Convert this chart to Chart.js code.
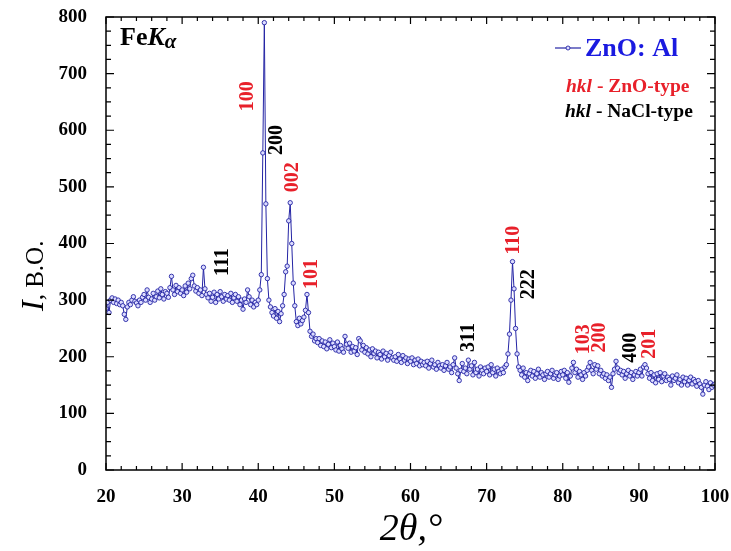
<!DOCTYPE html>
<html>
<head>
<meta charset="utf-8">
<script src="https://cdn.jsdelivr.net/npm/chart.js@4"></script>
<style>
  body { margin: 0; background: #fff; }
  canvas { display: block; }
</style>
</head>
<body>
<canvas id="xrd" width="731" height="551"></canvas>
<script>
// 2theta grid: 20..100 deg, 0.2 deg step
const start = 20, step = 0.2;

// intensity, a.u. (10 points per 2 deg)
const intensity = [
  285, 296, 278, 300, 304, 296, 302, 294, 300, 292,   // 20
  296, 290, 275, 266, 288, 296, 292, 300, 306, 298,   // 22
  295, 290, 300, 296, 305, 310, 300, 318, 305, 296,   // 24
  302, 312, 300, 306, 316, 304, 320, 310, 302, 315,   // 26
  312, 305, 322, 342, 318, 310, 326, 315, 322, 312,   // 28
  318, 308, 325, 314, 330, 320, 338, 344, 325, 316,   // 30
  322, 312, 318, 308, 358, 320, 310, 304, 312, 298,   // 32
  305, 314, 296, 310, 302, 315, 306, 298, 310, 302,   // 34
  308, 300, 312, 296, 304, 310, 298, 306, 292, 300,   // 36
  284, 302, 296, 318, 306, 292, 300, 288, 296, 292,   // 38
  300, 318, 345, 560, 790, 470, 338, 300, 288, 278,   // 40
  272, 285, 268, 280, 262, 276, 290, 310, 350, 360,   // 42
  440, 472, 400, 330, 290, 262, 255, 268, 258, 264,   // 44
  270, 282, 310, 278, 245, 236, 240, 228, 232, 225,   // 46
  232, 220, 228, 218, 226, 214, 222, 230, 216, 224,   // 48
  218, 212, 226, 210, 220, 214, 208, 236, 222, 215,   // 50
  224, 208, 218, 210, 216, 204, 232, 228, 212, 220,   // 52
  208, 216, 205, 212, 200, 214, 206, 210, 198, 208,   // 54
  204, 196, 210, 200, 206, 194, 202, 208, 198, 194,   // 56
  200, 192, 204, 196, 190, 202, 194, 198, 188, 196,   // 58
  192, 198, 186, 194, 188, 196, 184, 192, 186, 190,   // 60
  184, 192, 180, 188, 194, 182, 186, 178, 190, 184,   // 62
  180, 186, 176, 184, 190, 178, 182, 172, 186, 198,   // 64
  180, 170, 158, 176, 188, 174, 180, 170, 194, 178,   // 66
  184, 168, 190, 172, 178, 166, 182, 176, 170, 180,   // 68
  174, 182, 168, 186, 172, 178, 166, 180, 174, 170,   // 70
  178, 172, 182, 186, 205, 240, 300, 368, 320, 250,   // 72
  205, 182, 176, 168, 180, 164, 172, 158, 170, 176,   // 74
  166, 174, 162, 170, 178, 164, 172, 168, 160, 170,   // 76
  174, 164, 170, 176, 162, 168, 172, 160, 166, 174,   // 78
  168, 176, 162, 172, 155, 166, 180, 190, 172, 178,   // 80
  164, 174, 168, 160, 172, 166, 176, 182, 190, 176,   // 82
  170, 186, 178, 184, 170, 176, 166, 170, 162, 168,   // 84
  158, 164, 146, 170, 178, 192, 180, 172, 176, 168,   // 86
  174, 162, 170, 176, 166, 172, 160, 168, 174, 166,   // 88
  172, 178, 166, 182, 186, 180, 170, 162, 172, 158,   // 90
  168, 154, 170, 160, 172, 156, 166, 170, 158, 164,   // 92
  160, 150, 166, 158, 162, 168, 154, 160, 150, 164,   // 94
  156, 162, 150, 158, 164, 152, 160, 156, 148, 158,   // 96
  152, 146, 134, 150, 156, 148, 142, 154, 146, 150,   // 98
  152                                                 // 100
];

const xTicks = [20, 30, 40, 50, 60, 70, 80, 90, 100];
const yTicks = [0, 100, 200, 300, 400, 500, 600, 700, 800];

// reflections: label, 2theta, intensity where the label sits, phase
const hklText = ['100', '200', '002', '101', '111', '110', '222', '311', '103', '200', '400', '201'];
const hklPos  = [38.6, 42.4, 44.5, 47.1, 35.3, 73.6, 75.5, 67.7, 82.8, 84.85, 88.9, 91.4];
const hklAt   = [660, 583, 517, 346, 367, 406, 328, 234, 231, 234, 216, 223];
const hklZnO  = [true, false, true, true, false, true, false, false, true, true, false, true];

const points = intensity.map((v, i) => ({ x: +(start + i * step).toFixed(1), y: v }));

const RED = '#e8202a';
const LINE = '#2424a4';
const SERIF = '"Liberation Serif", "Times New Roman", serif';

const decor = {
  id: 'decor',
  afterDraw(chart) {
    const { ctx, chartArea: a, scales: { x, y } } = chart;
    ctx.save();

    // frame + inward ticks on all four sides
    ctx.strokeStyle = '#000';
    ctx.lineWidth = 1.5;
    ctx.strokeRect(a.left, a.top, a.right - a.left, a.bottom - a.top);
    ctx.lineWidth = 1.2;
    ctx.beginPath();
    for (let v = 20; v <= 100; v += 2) {
      const px = x.getPixelForValue(v);
      const len = v % 10 === 0 ? 7 : 4;
      ctx.moveTo(px, a.bottom); ctx.lineTo(px, a.bottom - len);
      ctx.moveTo(px, a.top); ctx.lineTo(px, a.top + len);
    }
    for (let v = 0; v <= 800; v += 25) {
      const py = y.getPixelForValue(v);
      const len = v % 100 === 0 ? 8 : 5;
      ctx.moveTo(a.left, py); ctx.lineTo(a.left + len, py);
      ctx.moveTo(a.right, py); ctx.lineTo(a.right - len, py);
    }
    ctx.stroke();

    // hkl labels, rotated
    ctx.font = 'bold 20px ' + SERIF;
    ctx.textAlign = 'center';
    ctx.textBaseline = 'middle';
    hklText.forEach((t, i) => {
      ctx.save();
      ctx.translate(x.getPixelForValue(hklPos[i]), y.getPixelForValue(hklAt[i]));
      ctx.rotate(-Math.PI / 2);
      ctx.fillStyle = hklZnO[i] ? RED : '#000';
      ctx.fillText(t, 0, 0);
      ctx.restore();
    });

    // FeK alpha
    ctx.textAlign = 'left';
    ctx.textBaseline = 'alphabetic';
    ctx.fillStyle = '#000';
    let cx = 120;
    ctx.font = 'bold 26px ' + SERIF;
    ctx.fillText('Fe', cx, 45); cx += ctx.measureText('Fe').width;
    ctx.font = 'bold italic 26px ' + SERIF;
    ctx.fillText('K', cx, 45); cx += ctx.measureText('K').width;
    ctx.font = 'bold italic 21px ' + SERIF;
    ctx.fillText('α', cx, 48);

    // legend
    ctx.strokeStyle = LINE;
    ctx.lineWidth = 1.2;
    ctx.beginPath(); ctx.moveTo(555, 48); ctx.lineTo(581, 48); ctx.stroke();
    ctx.beginPath(); ctx.arc(568, 48, 2, 0, Math.PI * 2);
    ctx.fillStyle = '#dcdcff'; ctx.fill(); ctx.lineWidth = 0.9; ctx.stroke();
    ctx.fillStyle = '#1a1ae0';
    ctx.font = 'bold 26px ' + SERIF;
    ctx.fillText('ZnO: Al', 585, 56);

    const hklLine = (x0, yb, rest, color) => {
      ctx.fillStyle = color;
      ctx.font = 'bold italic 19.5px ' + SERIF;
      ctx.fillText('hkl', x0, yb);
      const w = ctx.measureText('hkl').width;
      ctx.font = 'bold 19.5px ' + SERIF;
      ctx.fillText(rest, x0 + w, yb);
    };
    hklLine(566, 92, ' - ZnO-type', RED);
    hklLine(565, 117, ' - NaCl-type', '#000');

    // axis titles
    ctx.fillStyle = '#000';
    ctx.save();
    ctx.translate(43, 311);
    ctx.rotate(-Math.PI / 2);
    ctx.font = 'italic 32px ' + SERIF;
    ctx.fillText('I', 0, 0);
    const iw = ctx.measureText('I').width;
    ctx.font = '25px ' + SERIF;
    ctx.fillText(', В.О.', iw, 0);
    ctx.restore();

    ctx.font = 'italic 38px ' + SERIF;
    ctx.textAlign = 'center';
    ctx.fillText('2θ,°', 411, 540);

    ctx.restore();
  }
};

new Chart(document.getElementById('xrd'), {
  type: 'line',
  data: {
    datasets: [{
      data: points,
      borderColor: LINE,
      borderWidth: 1,
      pointRadius: 2.2,
      pointBorderWidth: 0.9,
      pointBorderColor: LINE,
      pointBackgroundColor: '#dcdcff',
      tension: 0
    }]
  },
  options: {
    responsive: false,
    animation: false,
    layout: { padding: { left: 0, right: 16, top: 17, bottom: 0 } },
    plugins: { legend: { display: false }, tooltip: { enabled: false } },
    scales: {
      x: {
        type: 'linear',
        min: 20, max: 100,
        afterBuildTicks: s => { s.ticks = xTicks.map(v => ({ value: v })); },
        afterFit: s => { s.height = 81; s.paddingLeft = 0; s.paddingRight = 0; },
        grid: { display: false },
        border: { display: false },
        ticks: { color: '#000', padding: 8, font: { family: SERIF, size: 19, weight: 'bold' } }
      },
      y: {
        min: 0, max: 800,
        afterBuildTicks: s => { s.ticks = yTicks.map(v => ({ value: v })); },
        afterFit: s => { s.width = 106; s.paddingTop = 0; s.paddingBottom = 0; },
        grid: { display: false },
        border: { display: false },
        ticks: { color: '#000', padding: 11, font: { family: SERIF, size: 19, weight: 'bold' } }
      }
    }
  },
  plugins: [decor]
});
</script>
</body>
</html>
